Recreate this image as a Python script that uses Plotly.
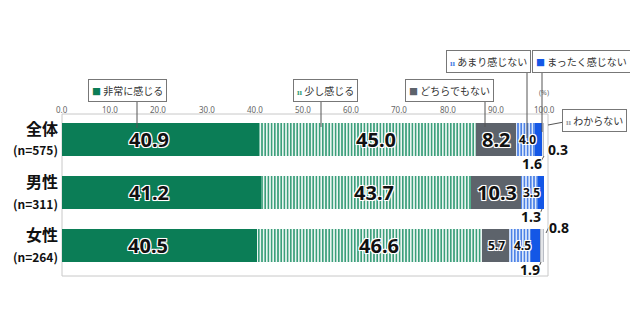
import plotly.graph_objects as go

# ---------------- data ----------------
categories = ["全体", "男性", "女性"]
n_labels = ["(n=575)", "(n=311)", "(n=264)"]
series_names = ["非常に感じる", "少し感じる", "どちらでもない", "あまり感じない", "まったく感じない", "わからない"]
very = [40.9, 41.2, 40.5]
somewhat = [45.0, 43.7, 46.6]
neutral = [8.2, 10.3, 5.7]
not_much = [4.0, 3.5, 4.5]
not_at_all = [1.6, 1.3, 1.9]
dont_know = [0.3, 0.0, 0.8]
x_ticks = [0, 10, 20, 30, 40, 50, 60, 70, 80, 90, 100]
x_tick_labels = ["0.0", "10.0", "20.0", "30.0", "40.0", "50.0", "60.0", "70.0", "80.0", "90.0", "100.0"]

series = [very, somewhat, neutral, not_much, not_at_all, dont_know]

# ---------------- layout geometry ----------------
W, H = 630, 331
ML, MR, MT, MB = 62, 82, 114, 55
PW, PH = W - ML - MR, H - MT - MB

def px(x):
    return (x - ML) / PW

def py(y):
    return (H - MB - y) / PH

JP = "Noto Sans CJK JP"
NUM = "Noto Sans, Noto Sans CJK JP"

green = "#0b7d56"
gray = "#5d636b"
blue = "#1457e6"

styles = [
    dict(color=green),
    dict(color="#ffffff", pattern=dict(shape="|", fgcolor="#3c9f7b", bgcolor="#ffffff", size=3.2, solidity=0.55, fillmode="replace")),
    dict(color=gray),
    dict(color="#ffffff", pattern=dict(shape="|", fgcolor="#4d82e6", bgcolor="#dce8fb", size=3.2, solidity=0.5, fillmode="replace")),
    dict(color=blue),
    dict(color="#ffffff", pattern=dict(shape="|", fgcolor="#b8bcc4", bgcolor="#f2f3f5", size=3, solidity=0.5, fillmode="replace")),
]

ytick_text = [f"<b>{c}</b><br><b><span style='font-size:12px'>{n}</span></b>" for c, n in zip(categories, n_labels)]

fig = go.Figure()
for name, vals, st in zip(series_names, series, styles):
    fig.add_trace(go.Bar(
        y=categories, x=vals, orientation="h", name=name,
        marker=dict(line=dict(width=0), **st), width=0.62,
        hoverinfo="x+name", showlegend=False,
    ))

shadow = "-1px -1px 0 #fff, 1px -1px 0 #fff, -1px 1px 0 #fff, 1px 1px 0 #fff, 0 0 2px #fff"
annotations = []

def ann(**kw):
    kw.setdefault("xanchor", "center")
    kw.setdefault("yanchor", "middle")
    kw.setdefault("showarrow", False)
    annotations.append(kw)

# in-bar value labels (positions derived from cumulative data)
factors = [0.44, 0.54, 0.52, 0.62]
sizes = [20, 20, 20, 12]
for i, cat in enumerate(categories):
    start = 0.0
    for s in range(4):
        v = series[s][i]
        sz = sizes[s]
        if s == 2 and v < 7:
            sz = 12
        ann(x=start + v * factors[s], y=cat, xref="x", yref="y",
            text=f"<b>{v:.1f}</b>",
            font=dict(family=NUM, size=sz, color="#111", shadow=shadow))
        start += v

# outside small labels
small_pos = {  # (category index, series index): pixel position
    (0, 4): (532, 163), (0, 5): (558, 149),
    (1, 4): (531, 216),
    (2, 4): (530, 269), (2, 5): (559, 227),
}
for (ci, si), (xx, yy) in small_pos.items():
    v = series[si][ci]
    ann(x=px(xx), y=py(yy), xref="paper", yref="paper",
        text=f"<b>{v:.1f}</b>",
        font=dict(family=NUM, size=14, color="#111", shadow=shadow))

# axis tick labels at top
for t, lab in zip(x_ticks, x_tick_labels):
    ann(x=t, y=py(109), xref="x", yref="paper", text=lab,
        font=dict(family=NUM, size=8, color="#666"))
ann(x=100, y=py(99), xref="x", yref="paper", text="(%)", yanchor="bottom",
    font=dict(family=NUM, size=7, color="#666"))

# legend boxes
legend_boxes = [
    # name index, icon, icon color, center x, center y
    (0, "■", green, 127, 90),
    (1, "ıı", "#3c9f7b", 325, 90),
    (2, "■", gray, 449, 90),
    (3, "ıı", "#4d82e6", 488, 61),
    (4, "■", blue, 581, 61),
    (5, "ıı", "#9aa0a8", 594, 120),
]
for si, icon, col, cx, cy in legend_boxes:
    ann(x=px(cx), y=py(cy), xref="paper", yref="paper",
        text=f"<span style='color:{col};font-size:9px'><b>{icon}</b></span> {series_names[si]}",
        font=dict(family=JP, size=10, color="#333"),
        bordercolor="#777", borderwidth=1, borderpad=3, bgcolor="#fff")

shapes = []
def seg(x0, y0, x1, y1, col="#555", w=1):
    shapes.append(dict(type="line", xref="paper", yref="paper",
                       x0=px(x0), y0=py(y0), x1=px(x1), y1=py(y1),
                       line=dict(color=col, width=w), layer="above"))

# plot frame
shapes.append(dict(type="rect", xref="paper", yref="paper", x0=0, y0=0, x1=1, y1=1,
                   line=dict(color="#c8c8c8", width=1), layer="below"))
# legend leaders
seg(137, 100, 137, 128)
seg(321, 100, 321, 127)
seg(485, 100, 485, 127)
seg(527, 71, 527, 138)
seg(542, 71, 542, 132)
seg(548, 125, 564, 122)
# small-value leaders
seg(540, 163, 544, 156)
seg(548, 149, 552, 149)
seg(539, 216, 542, 209)
seg(549, 227, 552, 226)
seg(549, 227, 546, 233)
seg(538, 269, 541, 262)

fig.update_layout(
    width=W, height=H, barmode="stack", bargap=0.38,
    margin=dict(l=ML, r=MR, t=MT, b=MB, pad=0),
    paper_bgcolor="#fff", plot_bgcolor="#fff",
    xaxis=dict(range=[0, PW / 4.82], showgrid=False, zeroline=False, showticklabels=False,
               showline=False, fixedrange=True),
    yaxis=dict(categoryorder="array", categoryarray=categories,
               range=[2.575, -0.481], tickvals=categories, ticktext=ytick_text,
               tickfont=dict(family=JP, size=16, color="#111"),
               showgrid=False, zeroline=False, showline=False, ticks="", ticklabelstandoff=3),
    annotations=annotations, shapes=shapes,
    font=dict(family=JP),
)

fig.write_html("out.html")
